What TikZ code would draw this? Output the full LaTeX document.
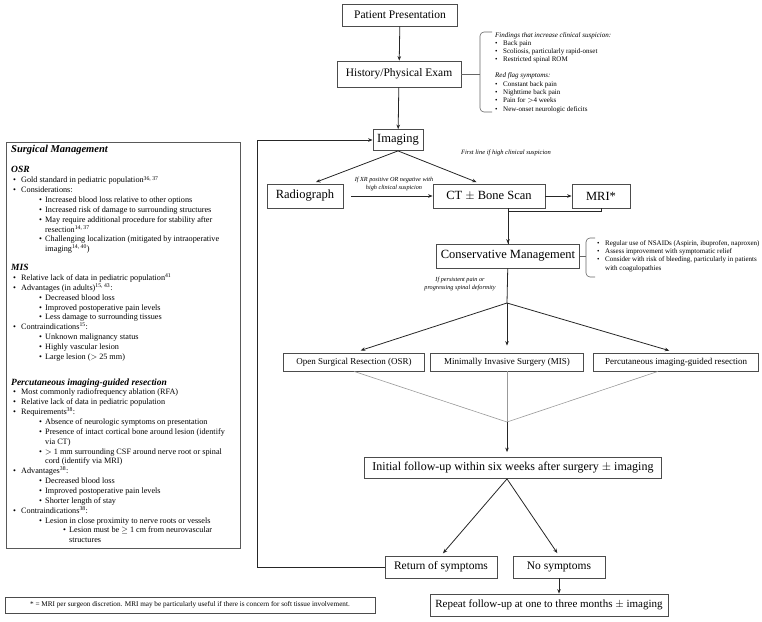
\documentclass[tikz,border=0pt]{standalone}
\usepackage{fontspec}
\setmainfont{Liberation Serif}
\usetikzlibrary{calc, positioning, arrows.meta}

% bullets for the side lists
\newcommand{\bb}{\makebox[8pt][l]{\textbullet}}
\newcommand{\lvA}{\hspace*{2pt}\makebox[8pt][l]{\textbullet}}
\newcommand{\lvB}{\hspace*{28pt}\makebox[6pt][l]{\textbullet}}
\newcommand{\lvC}{\hspace*{52pt}\makebox[6pt][l]{\textbullet}}
\newcommand{\cnB}{\hspace*{34pt}}
\newcommand{\cnC}{\hspace*{58pt}}
\newcommand{\sh}[1]{{\fontsize{9.5}{9.85}\selectfont\bfseries\itshape #1}}

\begin{document}
\begin{tikzpicture}[x=1pt, y=-1pt,
        box/.style={draw=black!70, line width=0.8pt, fill=white, inner sep=2pt, align=center},
        fbig/.style={font=\fontsize{12.5}{14}\selectfont},
        fmid/.style={font=\fontsize{11.5}{13}\selectfont},
        fsml/.style={font=\fontsize{9}{10}\selectfont},
        arr/.style={-{Stealth[length=4.5pt, width=3.6pt]}, line width=0.8pt, black!85},
        conn/.style={line width=0.8pt, black!85},
        merge/.style={line width=0.6pt, black!40},
        note/.style={font=\fontsize{6.2}{8}\selectfont\itshape, align=center, inner sep=0pt},
        brtxt/.style={font=\fontsize{7}{8.3}\selectfont, align=left, inner sep=0pt, anchor=north west},
        brc/.style={line width=0.6pt, black!60, rounded corners=4pt}
    ]
    \useasboundingbox (0,0) rectangle (762,621);

    % main column
    \node[box, fmid, minimum width=115pt, minimum height=22pt] (pp) at (400,15) {Patient Presentation};
    \node[box, fmid, minimum width=124pt, minimum height=26pt] (hist) at (399,74) {History/Physical Exam};
    \node[box, fbig, minimum width=50pt, minimum height=21pt] (img) at (398,140) {Imaging};
    \node[box, fbig, minimum width=76pt, minimum height=24pt] (radio) at (305,196) {Radiograph};
    \node[box, fbig, minimum width=112pt, minimum height=24pt] (ct) at (489,196) {CT $\pm$ Bone Scan};
    \node[box, fbig, minimum width=58pt, minimum height=24pt] (mri) at (601,196) {MRI*};
    \node[box, fbig, minimum width=143pt, minimum height=24pt] (cons) at (508,256) {Conservative Management};
    \node[box, fsml, minimum width=141pt, minimum height=18pt] (osr) at (354,362) {Open Surgical Resection (OSR)};
    \node[box, fsml, minimum width=153pt, minimum height=18pt] (mis) at (507,362) {Minimally Invasive Surgery (MIS)};
    \node[box, fsml, minimum width=165pt, minimum height=18pt] (perc) at (676,362) {Percutaneous imaging-guided resection};
    \node[box, font=\fontsize{12}{13}\selectfont, minimum width=297pt, minimum height=21pt] (init) at (513,468) {Initial follow-up within six weeks after surgery $\pm$ imaging};
    \node[box, fmid, minimum width=112pt, minimum height=22pt] (ret) at (441,567) {Return of symptoms};
    \node[box, fmid, minimum width=92pt, minimum height=22pt] (nosym) at (559,567) {No symptoms};
    \node[box, font=\fontsize{11}{12}\selectfont, minimum width=238pt, minimum height=22pt] (rep) at (549,605) {Repeat follow-up at one to three months $\pm$ imaging};
    \node[box, font=\fontsize{7.2}{8}\selectfont, minimum width=370pt, minimum height=16pt] (foot) at (190,605) {* = MRI per surgeon discretion. MRI may be particularly useful if there is concern for soft tissue involvement.};

    \coordinate (split) at (507,303);
    \coordinate (join) at (507,422);
    \coordinate (loop) at (257,567);
    \coordinate (mrib) at (601,211);
    \coordinate (hbr) at (480,74);
    \coordinate (cbr) at (586,256);

    % connectors
    \draw[arr] (pp) -- (hist);
    \draw[arr] (hist) -- (img);
    \draw[arr, shorten >=4pt] (img.south) -- (radio.60);
    \draw[arr, shorten >=4pt] (img.south) -- (ct.125);
    \draw[arr, shorten <=8pt] (radio) -- (ct);
    \draw[arr] (ct) -- (mri);
    \draw[conn] (mri) -- (mrib) -| (cons.north);
    \draw[arr] (ct.south -| cons.north) -- (cons.north);
    \draw[conn] (cons) -- (split);
    \draw[arr, shorten >=7pt] (split) -- (osr.north);
    \draw[arr, shorten >=7pt] (split) -- (mis.north);
    \draw[arr, shorten >=7pt] (split) -- (perc.north);
    \draw[merge] (osr.south) -- (join);
    \draw[merge] (mis.south) -- (join);
    \draw[merge] ($(perc.south)+(-18,0)$) -- (join);
    \draw[arr, shorten >=5pt] (join) -- (init.north -| join);
    \draw[arr, shorten >=3pt] (init.south -| join) -- (ret.north);
    \draw[arr, shorten >=3pt] (init.south -| join) -- (nosym.north);
    \draw[arr] (nosym) -- (rep.north -| nosym);
    \draw[arr] (ret.west) -- (loop) |- (img.west);

    % connector notes
    \node[note] (xrnote) at (394,184) {If XR positive OR negative with\\high clinical suspicion};
    \node[note, font=\fontsize{6.5}{8}\selectfont\itshape] (firstnote) at (506,153) {First line if high clinical suspicion};
    \node[note] (pnote) at (460,284) {If persistent pain or\\progressing spinal deformity};

    % braces and their lists
    \draw[brc] (492,32) -- (480,32) -- (480,112) -- (492,112);
    \draw[brc] (hist.east) -- (hbr);
    \node[brtxt] (findtxt) at (495,32) {\textit{Findings that increase clinical suspicion:}\\
        \bb Back pain\\
        \bb Scoliosis, particularly rapid-onset\\
        \bb Restricted spinal ROM\\[7.7pt]
        \textit{Red flag symptoms:}\\
        \bb Constant back pain\\
        \bb Nighttime back pain\\
        \bb Pain for $>$4 weeks\\
        \bb New-onset neurologic deficits};
    \draw[brc] (595,238) -- (586,238) -- (586,277) -- (595,277);
    \draw[brc] (cons.east) -- (cbr);
    \node[brtxt] (constxt) at (597,240) {\bb Regular use of NSAIDs (Aspirin, ibuprofen, naproxen)\\
        \bb Assess improvement with symptomatic relief\\
        \bb Consider with risk of bleeding, particularly in patients\\
        \hspace*{8pt}with coagulopathies};

    % surgical management panel
    \node[draw=black!65, line width=0.8pt, minimum width=234pt, minimum height=406pt, anchor=north west, inner sep=0pt] (surgbox) at (6,142) {};
    \node[anchor=west, inner sep=0pt, font=\fontsize{10.5}{12}\selectfont\bfseries\itshape] (surgtitle) at (11,150) {Surgical Management};
    \node[anchor=north west, inner sep=0pt, align=left, font=\fontsize{8.2}{9.85}\selectfont] (surgtxt) at (11,166.5) {\sh{OSR}\\
        \lvA Gold standard in pediatric population\textsuperscript{36, 37}\\
        \lvA Considerations:\\
        \lvB Increased blood loss relative to other options\\
        \lvB Increased risk of damage to surrounding structures\\
        \lvB May require additional procedure for stability after\\
        \cnB resection\textsuperscript{14, 37}\\
        \lvB Challenging localization (mitigated by intraoperative\\
        \cnB imaging\textsuperscript{14, 40})\\[9pt]
        \sh{MIS}\\
        \lvA Relative lack of data in pediatric population\textsuperscript{41}\\
        \lvA Advantages (in adults)\textsuperscript{15, 43}:\\
        \lvB Decreased blood loss\\
        \lvB Improved postoperative pain levels\\
        \lvB Less damage to surrounding tissues\\
        \lvA Contraindications\textsuperscript{15}:\\
        \lvB Unknown malignancy status\\
        \lvB Highly vascular lesion\\
        \lvB Large lesion ($>$ 25 mm)\\[16pt]
        \sh{Percutaneous imaging-guided resection}\\
        \lvA Most commonly radiofrequency ablation (RFA)\\
        \lvA Relative lack of data in pediatric population\\
        \lvA Requirements\textsuperscript{38}:\\
        \lvB Absence of neurologic symptoms on presentation\\
        \lvB Presence of intact cortical bone around lesion (identify\\
        \cnB via CT)\\
        \lvB $>$ 1 mm surrounding CSF around nerve root or spinal\\
        \cnB cord (identify via MRI)\\
        \lvA Advantages\textsuperscript{38}:\\
        \lvB Decreased blood loss\\
        \lvB Improved postoperative pain levels\\
        \lvB Shorter length of stay\\
        \lvA Contraindications\textsuperscript{38}:\\
        \lvB Lesion in close proximity to nerve roots or vessels\\
        \lvC Lesion must be $\geq$ 1 cm from neurovascular\\
        \cnC structures};
\end{tikzpicture}
\end{document}
